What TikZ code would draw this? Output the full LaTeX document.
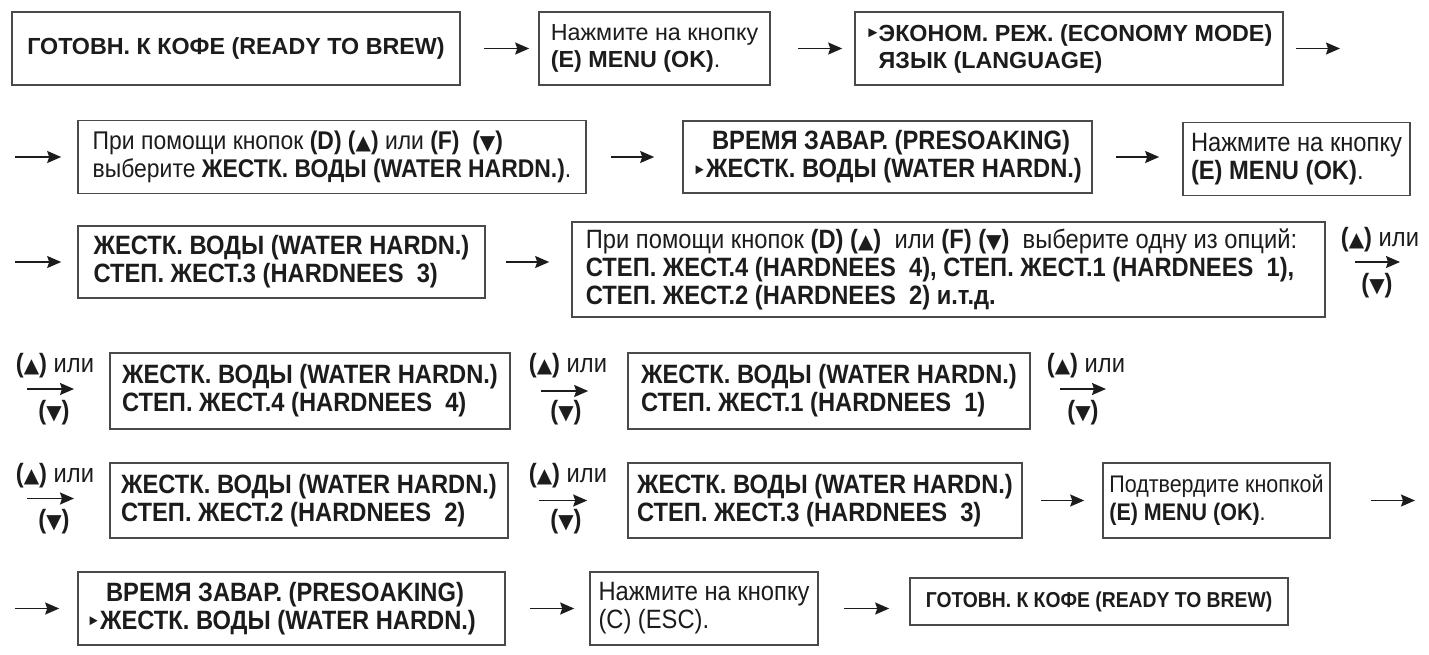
\documentclass[tikz,border=0pt]{standalone}
\usepackage{fontspec}
\setmainfont{Liberation Sans}
\newfontfamily\slimfont{Liberation Sans}[FakeStretch=0.895]
\newfontfamily\symfont{DejaVu Sans}
\usetikzlibrary{arrows.meta}
\definecolor{frame}{HTML}{4A4A4A}
\definecolor{ink}{HTML}{1C1C1C}
\newcommand{\ptr}{\makebox[13pt][l]{\fontsize{15}{15}\selectfont\raisebox{0.45ex}{►}}}
\newcommand{\upkey}{\textbf{(}{\symfont\fontsize{20}{20}\selectfont ▲}\textbf{)}}
\newcommand{\dnkey}{\textbf{(}{\symfont\fontsize{20}{20}\selectfont ▼}\textbf{)}}

\begin{document}
\begin{tikzpicture}[x=1pt, y=-1pt,
  box/.style={draw=frame, line width=1.6pt, fill=white, inner sep=0pt,
              align=left, text=ink},
  widetxt/.style={font=\fontsize{23.3}{27}\selectfont},
  slimtxt/.style={font=\slimfont\fontsize{26.5}{28}\selectfont},
  keylabel/.style={slimtxt, inner sep=0pt, text=ink},
  arr/.style={line width=1.6pt, ink, -{Stealth[length=14pt, width=12pt, inset=2pt]}},
]
\useasboundingbox (0,0) rectangle (1429,654);

% row 1
\node[box, widetxt, minimum width=448pt, minimum height=73pt] (rdy) at (236,48.5)
  {\textbf{ГОТОВН. К КОФЕ (READY TO BREW)}};
\node[box, widetxt, minimum width=231pt, minimum height=73pt] (menuA) at (654.5,48.5)
  {Нажмите на кнопку\\\textbf{(E) MENU (OK)}.};
\node[box, widetxt, minimum width=428pt, minimum height=73pt] (eco) at (1069,48.5)
  {\ptr\textbf{ЭКОНОМ. РЕЖ. (ECONOMY MODE)}\\\hspace*{13pt}\textbf{ЯЗЫК (LANGUAGE)}};
\coordinate (e1) at (1340,48.5);

\draw[arr, shorten <=23pt, shorten >=9pt] (rdy) -- (menuA);
\draw[arr, shorten <=27pt, shorten >=12pt] (menuA) -- (eco);
\draw[arr, shorten <=12pt] (eco) -- (e1);

% row 2
\coordinate (s2) at (15,157);
\node[box, slimtxt, font=\slimfont\fontsize{25.6}{28}\selectfont,
      minimum width=508pt, minimum height=73pt] (sel) at (332,157)
  {При помощи кнопок \textbf{(D)} \upkey{} или \textbf{(F)}~ \dnkey\\
   выберите \textbf{ЖЕСТК. ВОДЫ (WATER HARDN.)}.};
\node[box, slimtxt, minimum width=409pt, minimum height=72pt] (pre) at (887.5,157)
  {\hspace*{19pt}\textbf{ВРЕМЯ ЗАВАР. (PRESOAKING)}\\\ptr\textbf{ЖЕСТК. ВОДЫ (WATER HARDN.)}};
\node[box, slimtxt, minimum width=227pt, minimum height=73pt] (menuB) at (1296.5,159)
  {Нажмите на кнопку\\\textbf{(E) MENU (OK)}.};

\draw[arr, shorten >=16pt] (s2) -- (sel);
\draw[arr, shorten <=24pt, shorten >=28pt] (sel) -- (pre);
\draw[arr, shorten <=23pt, shorten >=23pt] (pre.east) -- (pre.east -| menuB.west);

% row 3
\coordinate (s3) at (15,262);
\node[box, slimtxt, minimum width=407pt, minimum height=72pt] (hard) at (281.5,262)
  {\textbf{ЖЕСТК. ВОДЫ (WATER HARDN.)}\\\textbf{СТЕП. ЖЕСТ.3 (HARDNEES~~3)}};
\node[box, slimtxt, minimum width=753pt, minimum height=95pt] (opts) at (948.5,269.5)
  {При помощи кнопок \textbf{(D)} \upkey~ или \textbf{(F)} \dnkey~ выберите одну из опций:\hspace*{14pt}\null\\
   \textbf{СТЕП. ЖЕСТ.4 (HARDNEES~~4), СТЕП. ЖЕСТ.1 (HARDNEES~~1),}\\
   \textbf{СТЕП. ЖЕСТ.2 (HARDNEES~~2) и.т.д.}};
\coordinate (k3a) at (1355,262);
\coordinate (k3b) at (1400,262);
\node[keylabel] (k3u) at (1380,240) {\upkey{} или};
\node[keylabel] (k3d) at (1377,286) {\dnkey};

\draw[arr, shorten >=16pt] (s3) -- (hard);
\draw[arr, shorten <=20pt, shorten >=22pt] (hard.east) -- (hard.east -| opts.west);
\draw[arr] (k3a) -- (k3b);

% row 4
\coordinate (k4a) at (27,389);
\coordinate (k4b) at (74,389);
\node[keylabel] (k4u) at (55,366) {\upkey{} или};
\node[keylabel] (k4d) at (54,413) {\dnkey};
\node[box, slimtxt, minimum width=400pt, minimum height=76pt] (hardA) at (310,391)
  {\textbf{ЖЕСТК. ВОДЫ (WATER HARDN.)}\\\textbf{СТЕП. ЖЕСТ.4 (HARDNEES~~4)}};
\node[keylabel] (k4mu) at (568,366) {\upkey{} или};
\node[keylabel] (k4md) at (566,413) {\dnkey};
\node[box, slimtxt, minimum width=402pt, minimum height=76pt] (hardB) at (829,391)
  {\textbf{ЖЕСТК. ВОДЫ (WATER HARDN.)}\\\textbf{СТЕП. ЖЕСТ.1 (HARDNEES~~1)}};
\coordinate (k4c) at (1060,389);
\coordinate (k4d) at (1106,389);
\node[keylabel] (k4ru) at (1086,366) {\upkey{} или};
\node[keylabel] (k4rd) at (1083,413) {\dnkey};

\draw[arr] (k4a) -- (k4b);
\draw[arr, shorten <=30pt, shorten >=39pt] (hardA.east) -- (hardA.east -| hardB.west);
\draw[arr] (k4c) -- (k4d);

% row 5
\coordinate (k5a) at (27,498.5);
\coordinate (k5b) at (74,498.5);
\node[keylabel] (k5u) at (55,476) {\upkey{} или};
\node[keylabel] (k5d) at (54,522) {\dnkey};
\node[box, slimtxt, minimum width=398pt, minimum height=75pt] (hardC) at (309,500.5)
  {\textbf{ЖЕСТК. ВОДЫ (WATER HARDN.)}\\\textbf{СТЕП. ЖЕСТ.2 (HARDNEES~~2)}};
\node[keylabel] (k5mu) at (568,476) {\upkey{} или};
\node[keylabel] (k5md) at (566,522) {\dnkey};
\node[box, slimtxt, minimum width=394pt, minimum height=75pt] (hardD) at (825,500.5)
  {\textbf{ЖЕСТК. ВОДЫ (WATER HARDN.)}\\\textbf{СТЕП. ЖЕСТ.3 (HARDNEES~~3)}};
\node[box, slimtxt, font=\slimfont\fontsize{24}{28}\selectfont,
      minimum width=227pt, minimum height=75pt] (okC) at (1216.5,500.5)
  {Подтвердите кнопкой\\\textbf{(E) MENU (OK)}.};
\coordinate (e5) at (1415,500.5);

\draw[arr] (k5a) -- (k5b);
\draw[arr, shorten <=30pt, shorten >=40pt] (hardC) -- (hardD);
\draw[arr, shorten <=18pt, shorten >=18pt] (hardD) -- (okC);
\draw[arr, shorten <=40pt] (okC) -- (e5);

% row 6
\coordinate (s6) at (15,608.5);
\node[box, slimtxt, minimum width=427pt, minimum height=73pt] (pre2) at (291.5,608.5)
  {\hspace*{19pt}\textbf{ВРЕМЯ ЗАВАР. (PRESOAKING)}\\\ptr\textbf{ЖЕСТК. ВОДЫ (WATER HARDN.)}\hspace*{20pt}\null};
\node[box, slimtxt, minimum width=228pt, minimum height=73pt] (esc) at (704,608.5)
  {Нажмите на кнопку\\(C) (ESC).};
\node[box, slimtxt, font=\slimfont\fontsize{21.6}{26}\selectfont,
      minimum width=378pt, minimum height=47pt] (rdy2) at (1099,601.5)
  {\textbf{ГОТОВН. К КОФЕ (READY TO BREW)}};

\draw[arr, shorten >=18pt] (s6) -- (pre2);
\draw[arr, shorten <=24pt, shorten >=15pt] (pre2) -- (esc);
\draw[arr, shorten <=25pt, shorten >=20pt] (esc.east) -- (esc.east -| rdy2.west);

\end{tikzpicture}
\end{document}
